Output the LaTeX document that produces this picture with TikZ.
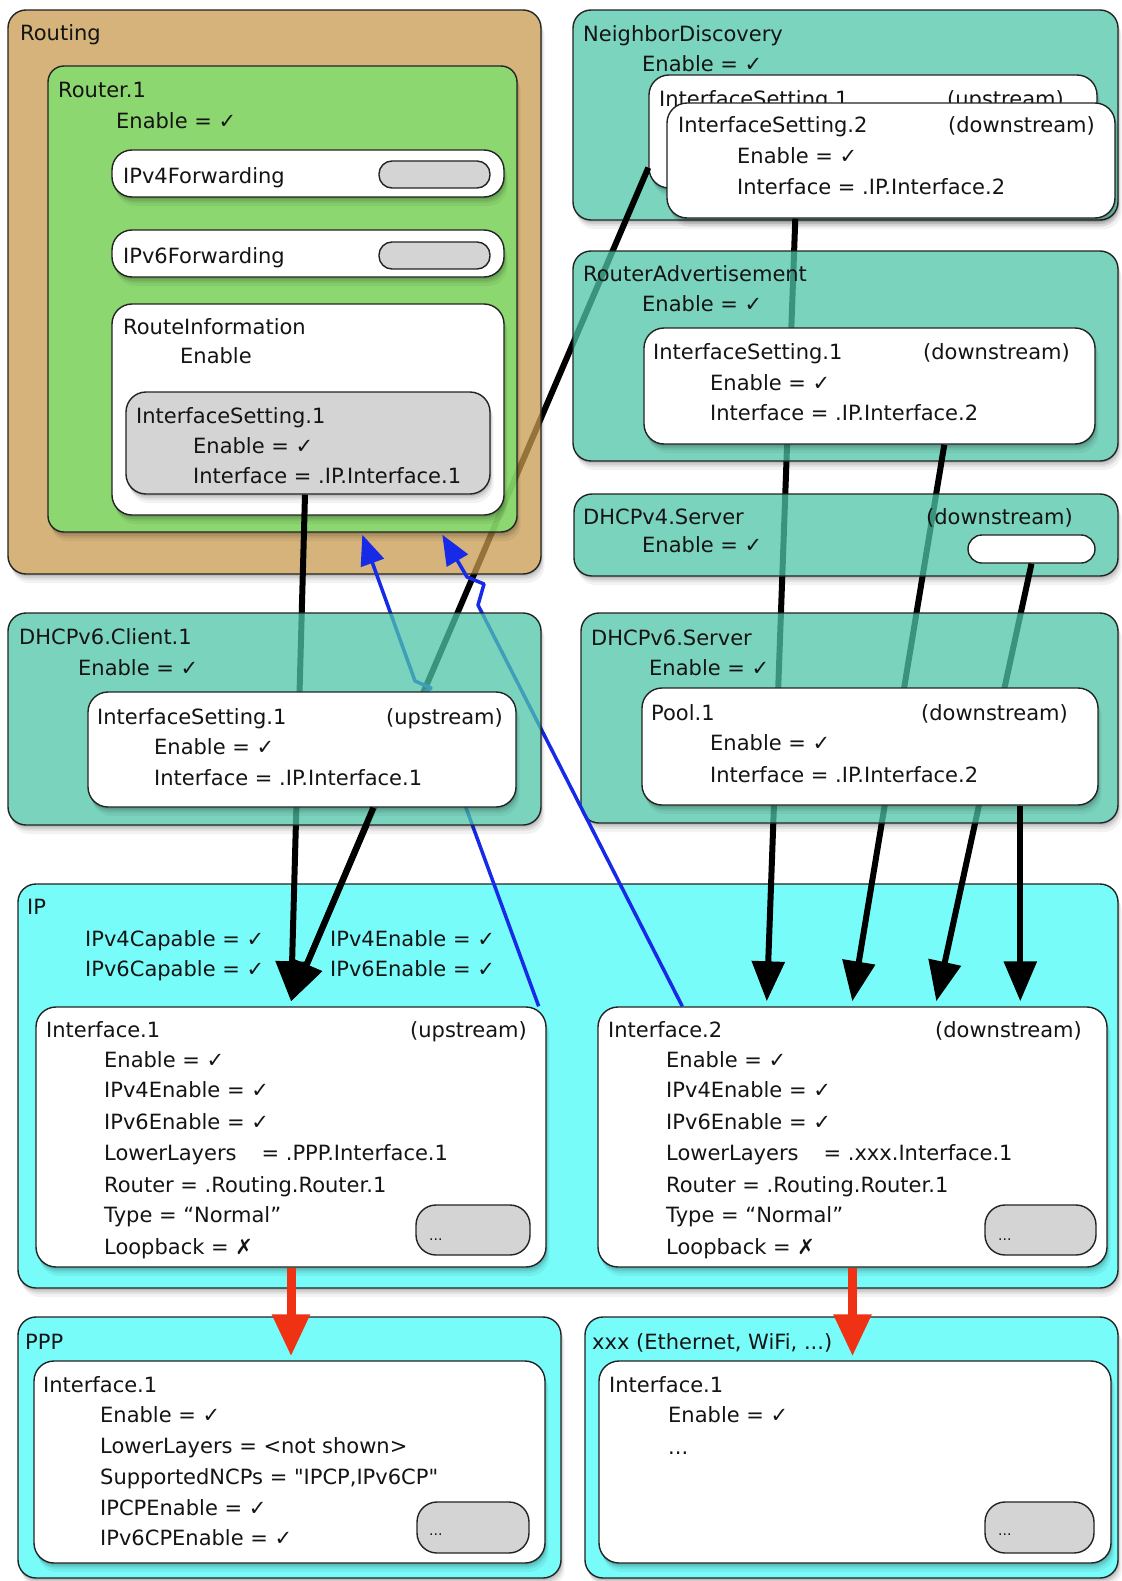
\documentclass[tikz,border=0pt]{standalone}
\usepackage{fontspec}
\setmainfont{DejaVu Sans}
\newfontfamily\plainf{DejaVu Sans}
\usetikzlibrary{arrows.meta,fit}

\definecolor{tanB}{RGB}{199,154,78}
\definecolor{grnB}{RGB}{117,228,109}
\definecolor{tealB}{RGB}{78,198,168}
\definecolor{tealS}{RGB}{122,212,190}
\definecolor{cyanS}{RGB}{120,252,250}
\definecolor{pillG}{RGB}{212,212,212}
\definecolor{edgeC}{RGB}{35,35,35}
\definecolor{txtC}{RGB}{20,20,20}
\definecolor{blueA}{RGB}{22,42,232}
\definecolor{redA}{RGB}{240,50,20}

\newcommand{\boxshade}[5]{%
  \begin{scope}[even odd rule,rounded corners=#5pt]
    \clip (-200,-200) rectangle (1400,1800) (#1,#2) rectangle (#3,#4);
    \foreach \sh/\op in {2/0.10,4/0.08,6/0.06,9/0.05}{
      \fill[black,opacity=\op] (#1+0.4*\sh,#2+\sh) rectangle (#3+0.4*\sh,#4+\sh);
    }
  \end{scope}}
\newcommand{\boxnode}[7]{%
  \boxshade{#2}{#3}{#4}{#5}{#6}
  \node[draw=edgeC,line width=1.4pt,inner sep=0pt,rounded corners=#6pt,fit={(#2,#3) (#4,#5)},#7] (#1) {};}
\newcommand{\dq}{{\plainf\char"22}}

\tikzset{
  tx/.style={anchor=base west,inner sep=0pt,text=txtC,font=\fontsize{21}{25}\selectfont},
  txr/.style={anchor=base east,inner sep=0pt,text=txtC,font=\fontsize{21}{25}\selectfont},
  dots/.style={anchor=base west,inner sep=0pt,text=txtC,font=\fontsize{14}{16}\selectfont},
  pill/.style={draw=edgeC,line width=1.4pt,fill=pillG,inner sep=0pt,rounded corners=20pt},
  blk/.style={line width=6pt,black,-{Triangle[length=40pt,width=32pt]}},
  bluearr/.style={line width=3.5pt,blueA,line join=round,-{Triangle[length=30pt,width=24pt]}},
  redarr/.style={line width=9pt,redA,-{Triangle[length=42pt,width=36pt]}},
}

\begin{document}
\begin{tikzpicture}[x=1pt,y=-1pt]
\useasboundingbox (0,0) rectangle (1121,1581);
\fill[white] (0,0) rectangle (1121,1581);

% ================= IP =================
\boxnode{ip}{18}{884}{1118}{1288}{18}{fill=cyanS}
\node[tx] (ipT) at (27,914) {IP};
\node[tx] (ipA) at (85,946) {IPv4Capable = ✓};
\node[tx] (ipB) at (85,976) {IPv6Capable = ✓};
\node[tx] (ipC) at (330,946) {IPv4Enable = ✓};
\node[tx] (ipD) at (330,976) {IPv6Enable = ✓};

\boxnode{ipif1}{36}{1007}{546}{1267}{20}{fill=white}
\node[tx] (if1T) at (46,1037) {Interface.1};
\node[txr] (if1U) at (527,1037) {(upstream)};
\node[tx] (if1a) at (104,1067) {Enable = ✓};
\node[tx] (if1b) at (104,1097) {IPv4Enable = ✓};
\node[tx] (if1c) at (104,1129) {IPv6Enable = ✓};
\node[tx] (if1d) at (104,1160) {LowerLayers\hspace{25pt}= .PPP.Interface.1};
\node[tx] (if1e) at (104,1192) {Router = .Routing.Router.1};
\node[tx] (if1f) at (104,1222) {Type = “Normal”};
\node[tx] (if1g) at (104,1254) {Loopback = ✗};
\node[pill,fit={(416,1205) (530,1255)}] (if1p) {};
\node[dots] (if1pd) at (429,1240) {...};

\boxnode{ipif2}{598}{1007}{1107}{1267}{20}{fill=white}
\node[tx] (if2T) at (608,1037) {Interface.2};
\node[txr] (if2U) at (1082,1037) {(downstream)};
\node[tx] (if2a) at (666,1067) {Enable = ✓};
\node[tx] (if2b) at (666,1097) {IPv4Enable = ✓};
\node[tx] (if2c) at (666,1129) {IPv6Enable = ✓};
\node[tx] (if2d) at (666,1160) {LowerLayers\hspace{25pt}= .xxx.Interface.1};
\node[tx] (if2e) at (666,1192) {Router = .Routing.Router.1};
\node[tx] (if2f) at (666,1222) {Type = “Normal”};
\node[tx] (if2g) at (666,1254) {Loopback = ✗};
\node[pill,fit={(985,1205) (1096,1255)}] (if2p) {};
\node[dots] (if2pd) at (998,1240) {...};

% ================= PPP / xxx =================
\boxnode{ppp}{18}{1317}{561}{1578}{18}{fill=cyanS}
\node[tx] (pppT) at (25,1349) {PPP};
\boxnode{pppif}{34}{1361}{545}{1563}{20}{fill=white}
\node[tx] (pifT) at (43,1392) {Interface.1};
\node[tx] (pifa) at (100,1422) {Enable = ✓};
\node[tx] (pifb) at (100,1453) {LowerLayers = <not shown>};
\node[tx] (pifc) at (100,1484) {SupportedNCPs = \dq IPCP,IPv6CP\dq};
\node[tx] (pifd) at (100,1515) {IPCPEnable = ✓};
\node[tx] (pife) at (100,1545) {IPv6CPEnable = ✓};
\node[pill,fit={(417,1502) (529,1553)}] (pifp) {};
\node[dots] (pifpd) at (429,1535) {...};

\boxnode{xxx}{585}{1317}{1118}{1578}{18}{fill=cyanS}
\node[tx] (xxxT) at (592,1349) {xxx (Ethernet, WiFi, ...)};
\boxnode{xif}{599}{1361}{1111}{1563}{20}{fill=white}
\node[tx] (xifT) at (609,1392) {Interface.1};
\node[tx] (xifa) at (668,1422) {Enable = ✓};
\node[tx] (xifb) at (668,1454) {...};
\node[pill,fit={(985,1502) (1094,1553)}] (xifp) {};
\node[dots] (xifpd) at (998,1535) {...};

\coordinate (pppTop) at ([yshift=4pt]pppif.north);
\coordinate (xifTop) at ([yshift=4pt]xif.north);
\draw[redarr] (ipif1.south) -- (ipif1.south |- pppTop);
\draw[redarr] (ipif2.south) -- (ipif2.south |- xifTop);

% ================= NeighborDiscovery =================
\boxnode{nd}{573}{10}{1118}{220}{18}{fill=tealS}
\node[tx] (ndT) at (583,42) {NeighborDiscovery};
\node[tx] (ndE) at (642,72) {Enable = ✓};
\boxnode{ndis1}{649}{75}{1097}{188}{20}{fill=white}
\node[tx] (nd1T) at (659,107) {InterfaceSetting.1};
\node[txr] (nd1U) at (1064,107) {(upstream)};
\boxnode{ndis2}{667}{103}{1115}{218}{20}{fill=white}
\node[tx] (nd2T) at (678,133) {InterfaceSetting.2};
\node[txr] (nd2U) at (1095,133) {(downstream)};
\node[tx] (nd2a) at (737,164) {Enable = ✓};
\node[tx] (nd2b) at (737,195) {Interface = .IP.Interface.2};

\draw[blk] ([yshift=21pt]ndis1.south west) -- ([yshift=5pt]ipif1.north);
\draw[blk] ([xshift=129pt]ndis2.south west) -- ([xshift=169.5pt,yshift=5pt]ipif2.north west);

% ================= RouterAdvertisement =================
\boxnode{ra}{573}{251}{1118}{461}{18}{fill=tealB,fill opacity=0.75}
\node[tx] (raT) at (583,281) {RouterAdvertisement};
\node[tx] (raE) at (642,311) {Enable = ✓};
\boxnode{rais}{644}{328}{1095}{444}{20}{fill=white}
\node[tx] (ra1T) at (653,359) {InterfaceSetting.1};
\node[txr] (ra1U) at (1070,359) {(downstream)};
\node[tx] (ra1a) at (710,390) {Enable = ✓};
\node[tx] (ra1b) at (710,420) {Interface = .IP.Interface.2};
\draw[blk] ([xshift=301pt]rais.south west) -- ([xshift=255pt,yshift=5pt]ipif2.north west);

% ================= DHCPv4.Server =================
\boxnode{dh4}{574}{494}{1118}{576}{18}{fill=tealB,fill opacity=0.75}
\node[tx] (d4T) at (583,524) {DHCPv4.Server};
\node[txr] (d4U) at (1073,524) {(downstream)};
\node[tx] (d4E) at (642,552) {Enable = ✓};
\node[draw=edgeC,line width=1.4pt,fill=white,inner sep=0pt,rounded corners=14pt,fit={(968,535) (1095,563)}] (d4p) {};
\draw[blk] (d4p.south) -- ([xshift=339pt,yshift=5pt]ipif2.north west);

% ================= DHCPv6.Server =================
\boxnode{d6s}{581}{613}{1118}{823}{18}{fill=tealB,fill opacity=0.75}
\node[tx] (d6sT) at (591,645) {DHCPv6.Server};
\node[tx] (d6sE) at (649,675) {Enable = ✓};
\boxnode{pool}{642}{688}{1098}{805}{20}{fill=white}
\node[tx] (poolT) at (651,720) {Pool.1};
\node[txr] (poolU) at (1068,720) {(downstream)};
\node[tx] (poola) at (710,750) {Enable = ✓};
\node[tx] (poolb) at (710,782) {Interface = .IP.Interface.2};
\draw[blk] ([xshift=379pt]pool.south west) -- ([xshift=423pt,yshift=5pt]ipif2.north west);

% ================= Routing =================
\boxnode{routing}{8}{10}{541}{574}{18}{fill=tanB,fill opacity=0.75}
\node[tx] (rtT) at (20,41) {Routing};
\boxnode{router}{48}{66}{517}{532}{16}{fill=grnB,fill opacity=0.75}
\node[tx] (r1T) at (58,98) {Router.1};
\node[tx] (r1E) at (116,129) {Enable = ✓};
\boxnode{v4f}{112}{150}{504}{197}{20}{fill=white}
\node[tx] (v4fT) at (123,183) {IPv4Forwarding};
\node[pill,rounded corners=13pt,fit={(379,161) (490,188)}] (v4fp) {};
\boxnode{v6f}{112}{230}{504}{277}{20}{fill=white}
\node[tx] (v6fT) at (123,263) {IPv6Forwarding};
\node[pill,rounded corners=13pt,fit={(379,242) (490,269)}] (v6fp) {};
\boxnode{rinfo}{112}{304}{504}{515}{20}{fill=white}
\node[tx] (riT) at (123,334) {RouteInformation};
\node[tx] (riE) at (180,363) {Enable};
\boxnode{risis}{126}{392}{490}{494}{20}{fill=pillG}
\node[tx] (risT) at (136,423) {InterfaceSetting.1};
\node[tx] (risa) at (193,453) {Enable = ✓};
\node[tx] (risb) at (193,483) {Interface = .IP.Interface.1};
\draw[blk] ([xshift=-3pt]risis.south) -- ([yshift=5pt]ipif1.north);

% ================= blue connectors =================
\draw[bluearr] ([xshift=-8pt]ipif1.north east) -- (424,693) -- (431,688) -- (415,681) -- ([xshift=315pt,yshift=-2pt]router.south west);
\draw[bluearr] ([xshift=85pt]ipif2.north west) -- (478,605) -- (484,584) -- (467,577) -- ([xshift=395pt,yshift=-2pt]router.south west);

% ================= DHCPv6.Client.1 =================
\boxnode{d6c}{8}{613}{541}{825}{18}{fill=tealB,fill opacity=0.75}
\node[tx] (d6cT) at (19,644) {DHCPv6.Client.1};
\node[tx] (d6cE) at (78,675) {Enable = ✓};
\boxnode{d6cis}{88}{692}{516}{807}{20}{fill=white}
\node[tx] (d6c1T) at (97,724) {InterfaceSetting.1};
\node[txr] (d6c1U) at (503,724) {(upstream)};
\node[tx] (d6c1a) at (154,754) {Enable = ✓};
\node[tx] (d6c1b) at (154,785) {Interface = .IP.Interface.1};
\draw[blk] ([xshift=286pt]d6cis.south west) -- ([yshift=5pt]ipif1.north);

\end{tikzpicture}
\end{document}
